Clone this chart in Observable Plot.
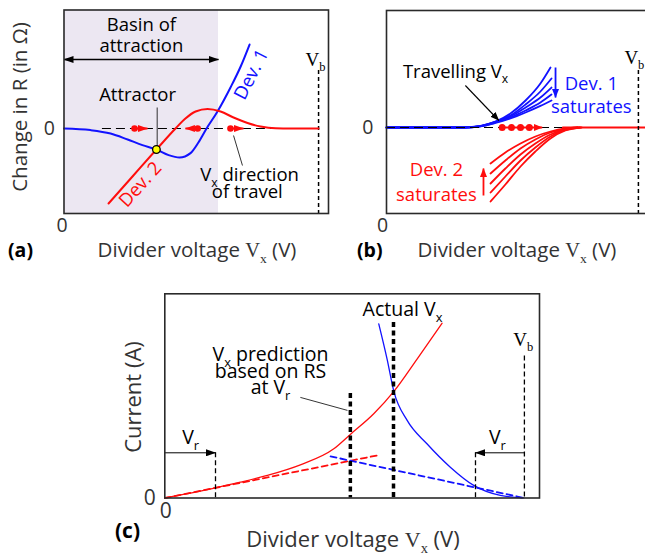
<!DOCTYPE html>
<html>
<head>
<meta charset="utf-8">
<script src="https://cdn.jsdelivr.net/npm/d3@7"></script>
<script src="https://cdn.jsdelivr.net/npm/@observablehq/plot@0.6"></script>
<style>
  html, body { margin: 0; padding: 0; background: #fff; }
  #figure { position: relative; width: 645px; height: 556px; overflow: hidden; background: #fff; }
  #figure svg { position: absolute; overflow: visible; max-width: none; }
</style>
</head>
<body>
<div id="figure"></div>
<script>
// Divider voltage is normalised: 0 at the origin, 1 at the bias voltage V_b.
const VB = 1;

// ---- (a) change in resistance of each device (arbitrary units) ----
const aDev1 = [[0, 0], [0.104, -0.08], [0.183, -0.25], [0.25, -0.55], [0.308, -0.83], [0.363, -1.05],
  [0.411, -1.33], [0.454, -1.45], [0.497, -1.23], [0.528, -0.7], [0.56, 0], [0.603, 0.85],
  [0.654, 2.05], [0.694, 3.1], [0.729, 4.2]];
const aDev2 = [[0.175, -3.75], [0.269, -2.4], [0.363, -1.05], [0.438, 0], [0.477, 0.5], [0.517, 0.85],
  [0.564, 0.975], [0.615, 0.85], [0.666, 0.55], [0.721, 0.275], [0.772, 0.1], [0.831, 0.01],
  [0.89, 0], [1.0, 0]];
const aAttractor = {x: 0.363, y: -1.05};
const aBasin = {from: 0, to: 0.607};
const aTravel = [{from: 0.277, to: 0.328}, {from: 0.525, to: 0.477}, {from: 0.654, to: 0.705}];
const aZeroFrom = 0.151;
const aText = [
  {x: 0.304, y: 5.19, text: "Basin of"},
  {x: 0.304, y: 4.13, text: "attraction"},
  {x: 0.289, y: 1.65, text: "Attractor"},
  {x: 0.729, y: -2.35, text: "V_{x} direction"},
  {x: 0.72, y: -3.17, text: "of travel"}
];

// ---- (b) families of curves as the devices saturate ----
const bDev1 = [
  [[0, 0], [0.306, 0], [0.373, 0.075], [0.433, 0.3], [0.492, 0.7], [0.552, 1.35], [0.611, 2.2], [0.651, 3.0]],
  [[0, 0], [0.306, 0], [0.373, 0.07], [0.433, 0.29], [0.492, 0.6], [0.552, 1.15], [0.611, 1.8], [0.655, 2.45]],
  [[0, 0], [0.306, 0], [0.373, 0.065], [0.433, 0.275], [0.492, 0.55], [0.552, 1.0], [0.611, 1.5], [0.655, 2.0]],
  [[0, 0], [0.306, 0], [0.373, 0.06], [0.433, 0.25], [0.492, 0.5], [0.552, 0.85], [0.611, 1.25], [0.655, 1.65]],
  [[0, 0], [0.306, 0], [0.373, 0.055], [0.433, 0.225], [0.492, 0.45], [0.552, 0.75], [0.611, 1.08], [0.655, 1.35]]
];
const bDev2 = [
  [[0.413, -1.8], [0.472, -1.25], [0.532, -0.8], [0.591, -0.45], [0.651, -0.2], [0.71, -0.05], [0.758, 0]],
  [[0.413, -2.3], [0.472, -1.65], [0.532, -1.05], [0.591, -0.6], [0.651, -0.25], [0.71, -0.065], [0.758, 0]],
  [[0.413, -2.8], [0.472, -2.05], [0.532, -1.35], [0.591, -0.8], [0.651, -0.35], [0.71, -0.09], [0.765, 0]],
  [[0.413, -3.25], [0.472, -2.45], [0.532, -1.65], [0.591, -1.0], [0.651, -0.45], [0.71, -0.12], [0.77, 0]],
  [[0.413, -3.7], [0.472, -2.85], [0.532, -1.95], [0.591, -1.2], [0.651, -0.55], [0.71, -0.15], [0.775, 0]]
];
const bDev2Flat = [[0.7, 0], [1.048, 0]];
const bTravel = [0.459, 0.496, 0.532, 0.567];
const bTravelEnd = 0.618;
const bZeroTo = 0.718;
const bText = [
  {x: 0.274, y: 2.77, text: "Travelling V_{x}", fill: "ink"},
  {x: 0.813, y: 2.18, text: "Dev. 1", fill: "blue"},
  {x: 0.813, y: 1.03, text: "saturates", fill: "blue"},
  {x: 0.198, y: -2.15, text: "Dev. 2", fill: "red"},
  {x: 0.198, y: -3.37, text: "saturates", fill: "red"}
];

// ---- (c) current through each device (arbitrary units) ----
const cDev2 = [[0, 0], [0.141, 0.51], [0.21, 0.79], [0.285, 1.13], [0.377, 1.66], [0.47, 2.46],
  [0.516, 3.18], [0.581, 4.21], [0.637, 5.33], [0.702, 6.96], [0.771, 8.74]];
const cDev1 = [[0.595, 8.71], [0.618, 6.96], [0.637, 5.33], [0.674, 3.88], [0.729, 2.71],
  [0.794, 1.54], [0.859, 0.63], [0.933, 0.13], [0.998, 0.01]];
const cSlope2 = [[0, 0], [0.591, 2.13]];
const cSlope1 = [[0.461, 2.08], [1.0, 0]];
const cVr = [{at: 0.141, from: 0, y: 2.26, lx: 0.072}, {at: 0.864, from: 1.0, y: 2.26, lx: 0.925}];
const cPredicted = {x: 0.516, top: 5.23};
const cActual = {x: 0.636, top: 8.78};
const cText = [
  {x: 0.661, y: 9.41, text: "Actual V_{x}"},
  {x: 0.294, y: 7.15, text: "V_{x} prediction"},
  {x: 0.294, y: 6.33, text: "based on RS"},
  {x: 0.294, y: 5.5, text: "at V_{r}"}
];

// ---- styling ----
const SANS = "'Open Sans', sans-serif";
const SERIF = "'Liberation Serif', 'DejaVu Serif', serif";
const INK = "#000";
const AXIS_INK = "#333";
const FRAME = "#2a2a2a";
const RED = "#ff0d0d";
const BLUE = "#1212ff";
const BASIN = "#ece7f2";
const FS = 18.5;
const colorOf = {ink: INK, red: RED, blue: BLUE};
const baseStyle = {fontFamily: SANS, fontSize: FS + "px", color: INK, background: "transparent", overflow: "visible"};
const XY = {x: d => d[0], y: d => d[1]};
const head = (name) => () => `head-${name}`;   // per-link aria-label used to attach arrowheads

const figure = document.getElementById("figure");

// Turn "_{..}" (subscript), "!{..}" (serif) and "!_{..}" (serif subscript) into tspans.
function richify(root) {
  d3.select(root).selectAll("text").each(function () {
    const el = this;
    const s = el.textContent;
    if (!/(_|!)\{/.test(s)) return;
    const size = parseFloat(getComputedStyle(el).fontSize) || FS;
    const drop = size * 0.28;
    el.textContent = "";
    let low = false;
    for (const part of s.split(/(!?_\{[^}]*\}|!\{[^}]*\})/).filter(p => p)) {
      const t = document.createElementNS("http://www.w3.org/2000/svg", "tspan");
      let m;
      if ((m = part.match(/^(!?)_\{(.*)\}$/))) {
        t.textContent = m[2];
        t.setAttribute("font-size", (size * 0.66).toFixed(1));
        if (m[1]) t.setAttribute("font-family", SERIF);
        if (!low) t.setAttribute("dy", drop);
        low = true;
      } else {
        const sm = part.match(/^!\{(.*)\}$/);
        t.textContent = sm ? sm[1] : part;
        if (sm) t.setAttribute("font-family", SERIF);
        if (low) t.setAttribute("dy", -drop);
        low = false;
      }
      el.appendChild(t);
    }
  });
}

// Filled arrowheads on links whose aria-label is "head-<color>[-both]".
function arrowHeads(svg, prefix, len, wid) {
  const s = d3.select(svg);
  const defs = s.append("defs");
  for (const [name, color] of Object.entries(colorOf)) {
    const id = `${prefix}-${name}`;
    defs.append("marker").attr("id", id)
      .attr("viewBox", `0 0 ${len} ${wid}`).attr("refX", len - 0.5).attr("refY", wid / 2)
      .attr("markerWidth", len).attr("markerHeight", wid)
      .attr("markerUnits", "userSpaceOnUse").attr("orient", "auto-start-reverse")
      .append("path").attr("d", `M0,0L${len},${wid / 2}L0,${wid}Z`).attr("fill", color);
    for (const both of [false, true]) {
      s.selectAll(`[aria-label="head-${name}${both ? "-both" : ""}"]`).each(function () {
        const paths = this.tagName.toLowerCase() === "path" ? d3.select(this) : d3.select(this).selectAll("path");
        paths.attr("marker-end", `url(#${id})`);
        if (both) paths.attr("marker-start", `url(#${id})`);
      });
    }
  }
}

function decorate(svg, o) {
  const s = d3.select(svg);
  s.append("text").attr("x", o.xl[0]).attr("y", o.xl[1]).attr("text-anchor", "middle")
    .attr("fill", AXIS_INK).attr("font-size", o.size).text("Divider voltage !{V}!_{x} (V)");
  if (o.yl) s.append("text").attr("transform", `translate(${o.yl[0]},${o.yl[1]}) rotate(-90)`)
    .attr("text-anchor", "middle").attr("fill", AXIS_INK).attr("font-size", o.size).text(o.yl[2]);
  s.append("text").attr("x", o.tag[0]).attr("y", o.tag[1]).attr("text-anchor", "start")
    .attr("font-weight", "bold").attr("font-size", o.tag[3]).attr("fill", INK).text(o.tag[2]);
}

function place(svg, left, top) {
  svg.style.left = left + "px";
  svg.style.top = top + "px";
  figure.appendChild(svg);
}

function vbLabel(x, y) {
  return Plot.text([{x, y}], {x: "x", y: "y", text: () => "!{V}!_{b}", fontSize: 19, fill: INK});
}

function zeroTicks(pad, size) {
  return [
    Plot.axisY([0], {tickSize: 0, tickPadding: pad[0], fontSize: size, color: AXIS_INK, label: null, tickFormat: () => "0"}),
    Plot.axisX([0], {tickSize: 0, tickPadding: pad[1], dx: pad[2], fontSize: size, color: AXIS_INK, label: null, tickFormat: () => "0"})
  ];
}

// ---------------- panel (a) ----------------
const plotA = Plot.plot({
  width: 330, height: 270,
  marginTop: 9.5, marginRight: 2, marginBottom: 57, marginLeft: 63.5,
  x: {domain: [0, 1.039]},
  y: {domain: [-4.25, 5.925]},
  style: baseStyle,
  marks: [
    Plot.rect([aBasin], {x1: "from", x2: "to", y1: -4.25, y2: 5.925, fill: BASIN}),
    Plot.ruleY([0], {x1: aZeroFrom, x2: VB, stroke: INK, strokeWidth: 1, strokeDasharray: "9,5"}),
    Plot.ruleX([VB], {y1: 2.9, y2: -4.25, stroke: INK, strokeWidth: 1.5, strokeDasharray: "4,3"}),
    Plot.line(aDev1, {...XY, stroke: BLUE, strokeWidth: 2, curve: "monotone-x"}),
    Plot.line(aDev2, {...XY, stroke: RED, strokeWidth: 2, curve: "monotone-x"}),
    Plot.link(aTravel, {x1: "from", x2: "to", y1: 0, y2: 0, stroke: RED, strokeWidth: 2, ariaLabel: head("red")}),
    Plot.dot(aTravel, {x: "from", y: 0, r: 3.3, fill: RED}),
    Plot.link([aBasin], {x1: "from", x2: "to", y1: 3.45, y2: 3.45, stroke: INK, strokeWidth: 1.6, ariaLabel: head("ink-both")}),
    Plot.link([aAttractor], {x1: d => d.x + 0.003, x2: d => d.x + 0.003, y1: 1.05, y2: "y", stroke: INK, strokeWidth: 0.8}),
    Plot.link([{x1: 0.666, y1: -0.35, x2: 0.701, y2: -1.85}], {x1: "x1", y1: "y1", x2: "x2", y2: "y2", stroke: INK, strokeWidth: 0.8}),
    Plot.dot([aAttractor], {x: "x", y: "y", r: 3.8, fill: "#ffff00", stroke: INK, strokeWidth: 1.3}),
    Plot.text(aText, {x: "x", y: "y", text: "text", fill: INK, fontSize: FS}),
    Plot.text([{x: 0.736, y: 2.7}], {x: "x", y: "y", text: () => "Dev. 1", rotate: -63, fill: BLUE, fontSize: FS}),
    Plot.text([{x: 0.3, y: -2.8}], {x: "x", y: "y", text: () => "Dev. 2", rotate: -48, fill: RED, fontSize: FS}),
    vbLabel(0.988, 3.45),
    ...zeroTicks([9, 5, -2], 19.5),
    Plot.frame({stroke: FRAME, strokeWidth: 1.6})
  ]
});
decorate(plotA, {size: 20.5, xl: [197, 257], yl: [27, 107, "Change in R (in Ω)"], tag: [8, 257, "(a)", 19.5]});
place(plotA, 0, 0);
arrowHeads(plotA, "ha", 10, 7);
richify(plotA);

// ---------------- panel (b) ----------------
const flat = (series) => series.flatMap((s, i) => s.map(([x, y]) => ({x, y, i})));
const plotB = Plot.plot({
  width: 320, height: 270,
  marginTop: 10, marginRight: 0, marginBottom: 57, marginLeft: 56,
  x: {domain: [0, 1.048]},
  y: {domain: [-4.3, 5.85]},
  style: baseStyle,
  marks: [
    Plot.line(flat(bDev1), {x: "x", y: "y", z: "i", stroke: BLUE, strokeWidth: 1.8, curve: "monotone-x"}),
    Plot.ruleY([0], {x1: 0, x2: bZeroTo, stroke: INK, strokeWidth: 1.1, strokeDasharray: "9,5"}),
    Plot.line(flat(bDev2), {x: "x", y: "y", z: "i", stroke: RED, strokeWidth: 1.8, curve: "monotone-x"}),
    Plot.line(bDev2Flat, {...XY, stroke: RED, strokeWidth: 1.8}),
    Plot.ruleX([VB], {y1: 2.85, y2: -4.3, stroke: INK, strokeWidth: 1.5, strokeDasharray: "4,3"}),
    Plot.link([{from: bTravel[0], to: bTravelEnd}], {x1: "from", x2: "to", y1: 0, y2: 0, stroke: RED, strokeWidth: 2, ariaLabel: head("red")}),
    Plot.dot(bTravel, {x: d => d, y: 0, r: 3.5, fill: RED}),
    Plot.link([{x1: 0.313, y1: 2.1, x2: 0.446, y2: 0.35}], {x1: "x1", y1: "y1", x2: "x2", y2: "y2", stroke: INK, strokeWidth: 1.1, ariaLabel: head("ink")}),
    Plot.link([{x: 0.671, y1: 3.0, y2: 1.5}], {x1: "x", x2: "x", y1: "y1", y2: "y2", stroke: BLUE, strokeWidth: 1.8, ariaLabel: head("blue")}),
    Plot.link([{x: 0.385, y1: -3.4, y2: -2.05}], {x1: "x", x2: "x", y1: "y1", y2: "y2", stroke: RED, strokeWidth: 1.8, ariaLabel: head("red")}),
    Plot.text(bText.filter(d => d.fill === "ink"), {x: "x", y: "y", text: "text", fill: INK, fontSize: FS}),
    Plot.text(bText.filter(d => d.fill === "blue"), {x: "x", y: "y", text: "text", fill: BLUE, fontSize: FS}),
    Plot.text(bText.filter(d => d.fill === "red"), {x: "x", y: "y", text: "text", fill: RED, fontSize: FS}),
    vbLabel(0.984, 3.5),
    ...zeroTicks([13, 5, -4], 19.5),
    Plot.frame({stroke: FRAME, strokeWidth: 1.6})
  ]
});
decorate(plotB, {size: 20.5, xl: [187, 257], tag: [27, 257, "(b)", 19.5]});
place(plotB, 330, 0);
arrowHeads(plotB, "hb", 9, 7);
richify(plotB);

// ---------------- panel (c) ----------------
const FSC = 19.5;
const plotC = Plot.plot({
  width: 450, height: 276,
  marginTop: 13.3, marginRight: 11, marginBottom: 58.5, marginLeft: 64.3,
  x: {domain: [0, 1.042]},
  y: {domain: [0, 10.21]},
  style: baseStyle,
  marks: [
    Plot.line(cSlope2, {...XY, stroke: RED, strokeWidth: 1.8, strokeDasharray: "6,4"}),
    Plot.line(cSlope1, {...XY, stroke: BLUE, strokeWidth: 1.8, strokeDasharray: "6,4"}),
    Plot.line(cDev2, {...XY, stroke: RED, strokeWidth: 1.3, curve: "monotone-x"}),
    Plot.line(cDev1, {...XY, stroke: BLUE, strokeWidth: 1.3, curve: "monotone-x"}),
    Plot.ruleX(cVr, {x: "at", y1: "y", y2: 0, stroke: INK, strokeWidth: 1.3, strokeDasharray: "5,3"}),
    Plot.ruleX([VB], {y1: 7.1, y2: 0, stroke: INK, strokeWidth: 1.3, strokeDasharray: "5,3"}),
    Plot.link(cVr, {x1: "from", x2: "at", y1: "y", y2: "y", stroke: INK, strokeWidth: 1, ariaLabel: head("ink")}),
    Plot.ruleX([cPredicted, cActual], {x: "x", y1: "top", y2: 0, stroke: INK, strokeWidth: 3.5, strokeDasharray: "5,3.5"}),
    Plot.link([{x1: 0.377, y1: 5.03, x2: 0.508, y2: 4.38}], {x1: "x1", y1: "y1", x2: "x2", y2: "y2", stroke: INK, strokeWidth: 0.8}),
    Plot.text(cText, {x: "x", y: "y", text: "text", fill: INK, fontSize: FSC}),
    Plot.text(cVr, {x: "lx", y: 3.0, text: () => "V_{r}", fill: INK, fontSize: FSC}),
    vbLabel(0.997, 7.9),
    ...zeroTicks([9, 5, 1], 21),
    Plot.frame({stroke: FRAME, strokeWidth: 1.6})
  ]
});
decorate(plotC, {size: 22, xl: [253, 267], yl: [41, 117, "Current (A)"], tag: [15, 258, "(c)", 21]});
place(plotC, 100, 280);
arrowHeads(plotC, "hc", 10, 7);
richify(plotC);
</script>
</body>
</html>
